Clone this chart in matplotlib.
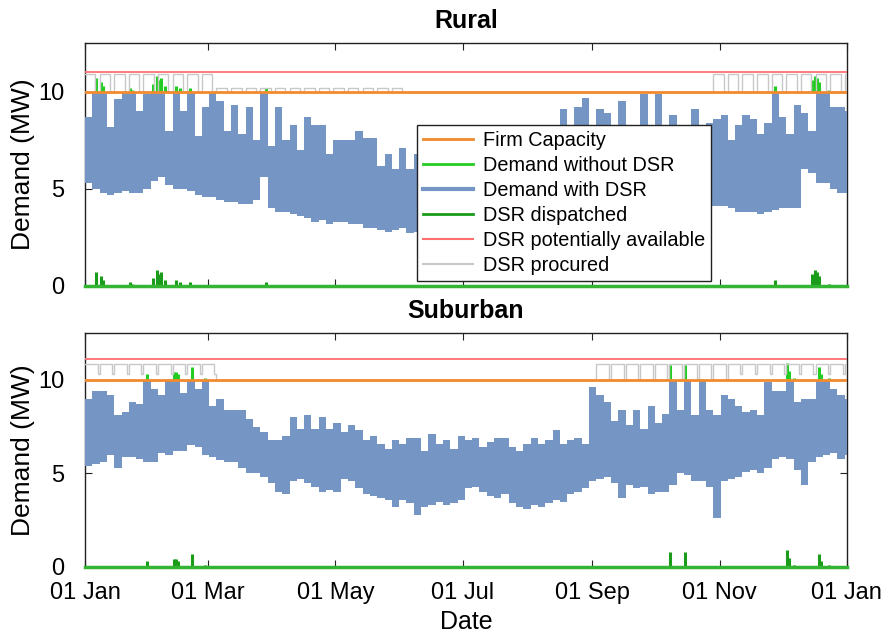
import numpy as np
import matplotlib.pyplot as plt
from matplotlib.lines import Line2D

plt.rcParams['font.family'] = ['Liberation Sans', 'DejaVu Sans']

# demand envelope, one value every half week (3.5 days), MW
STEP_DAYS = 3.5

rural_high = [
    8.7, 10.0, 10.0, 8.2, 9.6, 10.0, 10.0,
    9.0, 9.9, 10.0, 10.0, 8.0, 10.0, 9.0,
    10.0, 7.7, 9.2, 10.0, 9.5, 8.0, 9.3,
    7.8, 9.2, 7.5, 10.0, 7.2, 9.2, 7.5,
    8.3, 7.0, 8.7, 8.3, 8.3, 6.8, 7.5,
    7.5, 7.5, 8.0, 7.6, 7.6, 6.2, 6.8,
    6.0, 7.1, 6.0, 6.8, 7.2, 6.4, 7.4,
    6.6, 7.6, 6.5, 7.3, 6.6, 7.5, 6.8,
    7.8, 6.7, 7.6, 6.9, 7.9, 7.0, 8.0,
    7.1, 8.1, 9.1, 7.5, 9.2, 9.7, 8.0,
    9.1, 8.9, 8.0, 9.5, 8.0, 8.0, 9.9,
    8.0, 9.9, 8.0, 8.8, 8.0, 8.2, 9.1,
    8.0, 8.4, 8.6, 8.8, 7.5, 8.3, 8.8,
    8.6, 7.8, 8.4, 10.0, 8.7, 7.8, 9.3,
    8.9, 8.0, 10.0, 10.0, 9.2, 9.2, 9.0,
]
rural_low = [
    5.3, 5.0, 4.8, 4.7, 4.8, 4.9, 4.8,
    4.8, 5.0, 5.4, 5.6, 5.2, 5.0, 5.0,
    4.9, 4.7, 4.6, 4.6, 4.4, 4.3, 4.3,
    4.2, 4.2, 4.4, 5.6, 4.0, 3.8, 3.8,
    3.7, 3.6, 3.5, 3.3, 3.4, 3.2, 3.3,
    3.3, 3.2, 3.2, 3.0, 3.0, 2.9, 2.8,
    2.9, 3.0, 2.7, 2.8, 2.9, 3.0, 2.8,
    3.1, 3.0, 2.9, 3.2, 3.0, 3.1, 3.3,
    3.2, 3.1, 3.4, 3.3, 3.5, 3.4, 3.6,
    3.5, 3.7, 3.6, 3.8, 3.7, 3.9, 3.8,
    4.0, 3.9, 4.0, 3.9, 4.1, 4.0, 4.1,
    3.9, 4.0, 4.1, 4.0, 4.2, 4.1, 4.0,
    4.1, 4.1, 4.1, 4.1, 4.0, 3.8, 3.8,
    3.8, 3.7, 3.8, 3.9, 4.0, 4.0, 4.0,
    6.0, 5.8, 5.3, 5.3, 5.0, 4.8, 4.8,
]
suburban_high = [
    9.0, 9.4, 9.4, 9.2, 8.1, 8.3, 8.8,
    8.7, 10.0, 9.5, 9.2, 10.0, 10.0, 9.3,
    10.0, 9.5, 10.0, 8.6, 9.0, 8.4, 8.4,
    8.4, 7.9, 7.5, 7.2, 6.8, 6.8, 7.0,
    8.0, 7.4, 8.1, 7.4, 8.0, 7.4, 7.7,
    7.2, 7.6, 7.3, 6.8, 7.0, 6.6, 6.3,
    6.8, 6.6, 6.9, 6.9, 6.2, 7.1, 6.6,
    6.8, 6.3, 7.0, 6.8, 6.9, 6.4, 6.7,
    6.9, 6.9, 6.4, 6.2, 6.6, 6.9, 6.6,
    6.8, 7.3, 6.6, 6.8, 6.9, 6.6, 9.6,
    9.2, 8.8, 7.8, 8.4, 7.6, 8.4, 7.4,
    8.6, 7.7, 8.2, 10.0, 8.4, 10.0, 8.1,
    10.0, 8.4, 8.1, 9.2, 9.0, 8.6, 8.3,
    8.4, 8.1, 9.9, 9.4, 9.4, 10.0, 8.8,
    9.0, 9.0, 10.0, 10.0, 9.5, 9.2, 9.0,
]
suburban_low = [
    5.4, 5.5, 5.6, 6.0, 5.3, 5.9, 5.9,
    5.8, 5.6, 5.6, 6.1, 6.0, 6.2, 6.2,
    6.5, 6.4, 6.0, 5.9, 5.7, 5.6, 5.6,
    5.3, 5.0, 5.0, 4.8, 4.5, 4.0, 3.9,
    4.6, 4.7, 4.5, 4.3, 4.0, 4.1, 4.0,
    4.7, 4.6, 4.2, 3.9, 3.8, 3.7, 3.6,
    3.2, 3.6, 3.4, 2.8, 3.2, 3.3, 3.5,
    3.3, 3.4, 3.6, 4.2, 4.3, 4.0, 3.8,
    3.7, 3.9, 3.4, 3.2, 3.1, 3.3, 3.2,
    3.4, 3.6, 3.5, 3.9, 4.0, 4.2, 4.6,
    4.7, 4.8, 4.5, 3.7, 4.4, 4.2, 4.3,
    3.9, 4.0, 4.0, 4.4, 5.0, 4.9, 4.6,
    4.6, 4.3, 2.6, 4.6, 4.7, 4.8, 5.1,
    5.2, 5.0, 5.3, 5.8, 5.9, 5.8, 5.2,
    4.4, 5.6, 5.9, 6.0, 6.1, 5.8, 6.0,
]

# days where demand without DSR went over firm capacity, and its peak (MW)
rural_event_days = [5, 7, 8, 21, 22, 32, 34, 35, 36, 38, 43, 45, 50, 64, 86,
                    330, 348, 349, 350, 351, 356]
rural_event_peaks = [10.7, 10.5, 10.3, 10.2, 10.1, 10.4, 10.8, 10.6, 10.7, 10.3,
                     10.3, 10.2, 10.2, 10.05, 10.2, 10.3, 10.6, 10.8, 10.7, 10.5, 10.1]
suburban_event_days = [29, 42, 43, 44, 51, 57, 280, 287, 295, 336, 337, 339, 351, 352, 356]
suburban_event_peaks = [10.3, 10.4, 10.4, 10.3, 10.7, 10.1, 10.8, 10.8, 10.05,
                        10.9, 10.5, 10.1, 10.7, 10.3, 10.1]

# DSR procured above firm capacity per week (MW): level on "on" days and on "off" days
rural_procured_on = [
    0.9, 0.9, 0.9, 0.9, 0.9, 0.9, 0.9, 0.9, 0.9,
    0.2, 0.2, 0.2, 0.2, 0.2, 0.2, 0.2, 0.2, 0.2, 0.2, 0.2, 0.2, 0.2,
    0, 0, 0, 0, 0, 0, 0, 0, 0, 0, 0, 0, 0, 0, 0, 0, 0, 0, 0, 0, 0,
    0.9, 0.9, 0.9, 0.9, 0.9, 0.9, 0.9, 0.9, 0.9, 0.9,
]
rural_procured_off = [0] * 53
rural_day_pattern = [1, 1, 1, 1, 1, 0, 0]

suburban_procured_on = [
    0.85, 0.85, 0.85, 0.85, 0.85, 0.85, 0.85, 0.85, 0.85,
    0, 0, 0, 0, 0, 0, 0, 0, 0, 0, 0, 0, 0, 0, 0, 0, 0,
    0, 0, 0, 0, 0, 0, 0, 0, 0,
    0.85, 0.85, 0.85, 0.85, 0.85, 0.85, 0.85, 0.85, 0.85,
    0.85, 0.85, 0.85, 0.85, 0.85, 0.85, 0.85, 0.85, 0.85,
]
suburban_procured_off = [
    0.3, 0.3, 0.3, 0.3, 0.3, 0.3, 0.3, 0.3, 0.3,
    0, 0, 0, 0, 0, 0, 0, 0, 0, 0, 0, 0, 0, 0, 0, 0, 0,
    0, 0, 0, 0, 0, 0, 0, 0, 0,
    0, 0, 0, 0, 0, 0, 0, 0, 0,
    0.3, 0.3, 0.3, 0.3, 0.3, 0.3, 0.3, 0.3, 0.3,
]
suburban_day_pattern = [1, 1, 1, 1, 1, 1, 0]

firm_capacity = 10.0
rural_available = 11.0
suburban_available = 11.1

month_starts = ['2015-01-01', '2015-03-01', '2015-05-01', '2015-07-01',
                '2015-09-01', '2015-11-01', '2016-01-01']
month_labels = ['01 Jan', '01 Mar', '01 May', '01 Jul', '01 Sep', '01 Nov', '01 Jan']

ORANGE = '#f28a2e'
GREEN = '#22cc22'
BLUE = '#7595c4'
DGREEN = '#1a9c1a'
RED = '#ff6f6f'
GREY = '#c8c8c8'
FS = 17


def procured_line(on, off, pattern):
    days = np.arange(366)
    week = np.minimum(days // 7, len(on) - 1)
    is_on = np.asarray(pattern)[days % 7] == 1
    level = np.where(is_on, np.asarray(on)[week], np.asarray(off)[week])
    return days, firm_capacity + level


def draw_panel(ax, title, high, low, ev_days, ev_peaks, proc_days, proc, available):
    edges = np.arange(len(high) + 1) * STEP_DAYS
    ev_x = np.asarray(ev_days) + 0.5
    ev_y = np.asarray(ev_peaks)

    ax.vlines(ev_x, firm_capacity, ev_y, color=GREEN, lw=2.2, zorder=3)
    ax.stairs(high, edges, baseline=low, fill=True, color=BLUE, lw=0, zorder=4)
    ax.plot(proc_days, proc, color=GREY, lw=1, drawstyle='steps-post', zorder=5)
    ax.axhline(firm_capacity, color=ORANGE, lw=2, zorder=6)
    ax.vlines(ev_x, 0, ev_y - firm_capacity, color=DGREEN, lw=2.2, zorder=6)
    ax.axhline(0, color='#33b533', lw=2.5, zorder=6, clip_on=False)
    ax.axhline(available, color=RED, lw=1.3, zorder=6)

    t0 = np.datetime64('2015-01-01')
    ticks = (np.array(month_starts, dtype='datetime64[D]') - t0).astype(int)
    ax.set_xlim(0, 365)
    ax.set_ylim(0, 12.5)
    ax.set_xticks(ticks)
    ax.set_yticks([0, 5, 10])
    ax.tick_params(direction='in', top=True, right=True, length=5, labelsize=FS,
                   color='#222222')
    ax.tick_params(axis='x', pad=11)
    ax.tick_params(axis='y', pad=15)
    for s in ax.spines.values():
        s.set_linewidth(1)
        s.set_color('#222222')
    ax.set_title(title, fontsize=FS + 1, fontweight='bold', pad=11)
    ax.set_ylabel('Demand (MW)', fontsize=FS + 2, labelpad=2)


fig = plt.figure(figsize=(8.89, 6.44), dpi=100)
ax1 = fig.add_axes([0.0956, 0.556, 0.857, 0.377])
ax2 = fig.add_axes([0.0956, 0.1196, 0.857, 0.363])

d1, p1 = procured_line(rural_procured_on, rural_procured_off, rural_day_pattern)
d2, p2 = procured_line(suburban_procured_on, suburban_procured_off, suburban_day_pattern)
draw_panel(ax1, 'Rural', rural_high, rural_low, rural_event_days, rural_event_peaks,
           d1, p1, rural_available)
draw_panel(ax2, 'Suburban', suburban_high, suburban_low, suburban_event_days,
           suburban_event_peaks, d2, p2, suburban_available)

ax1.set_xticklabels([])
ax2.set_xticklabels(month_labels)
ax2.set_xlabel('Date', fontsize=FS + 1, labelpad=4)

handles = [
    Line2D([], [], color=ORANGE, lw=2),
    Line2D([], [], color=GREEN, lw=2),
    Line2D([], [], color=BLUE, lw=3),
    Line2D([], [], color=DGREEN, lw=2),
    Line2D([], [], color=RED, lw=1.5),
    Line2D([], [], color=GREY, lw=1.5),
]
labels = ['Firm Capacity', 'Demand without DSR', 'Demand with DSR', 'DSR dispatched',
          'DSR potentially available', 'DSR procured']
leg = ax1.legend(handles, labels, loc='upper left', bbox_to_anchor=(0.436, 0.663),
                 borderaxespad=0, fontsize=14.3, handlelength=2.5, labelspacing=0.3,
                 fancybox=False, framealpha=1, edgecolor='#222222', borderpad=0.3,
                 handletextpad=0.5)
leg.get_frame().set_linewidth(1)
leg.set_zorder(10)

fig.savefig('out.png', dpi=100)
